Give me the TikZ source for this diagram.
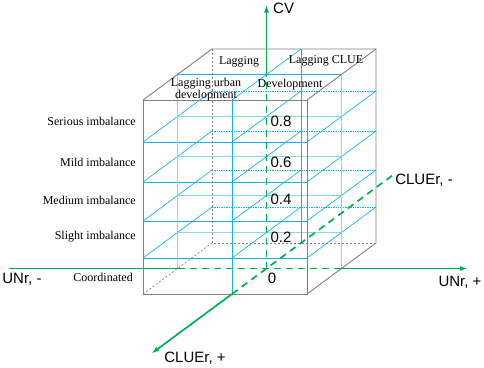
\documentclass[tikz,border=0pt]{standalone}
\usepackage{fontspec}
\setmainfont{Liberation Serif}
\newfontfamily\axfont{Liberation Sans}
\usetikzlibrary{arrows.meta}
\definecolor{gridcyan}{RGB}{20,180,235}
\definecolor{midcyan}{RGB}{140,215,240}
\definecolor{edgegray}{RGB}{128,128,128}
\definecolor{axisgreen}{RGB}{0,176,80}
\tikzset{
  gridline/.style={gridcyan, line width=0.7pt},
  midline/.style={midcyan, line width=0.7pt},
  backline/.style={gridcyan, line width=0.7pt, densely dotted},
  cubeedge/.style={edgegray, line width=0.9pt},
  hidden/.style={edgegray, line width=0.7pt, dash pattern=on 2pt off 2pt},
  axis/.style={axisgreen, line width=1.7pt},
  axisdash/.style={axis, dash pattern=on 7pt off 5pt},
  tip/.style={-{Latex[length=8pt,width=5pt]}},
  level/.style={font=\fontsize{12}{12}\selectfont, inner sep=0pt},
  axlabel/.style={font=\axfont\fontsize{15}{18}\selectfont, inner sep=0pt}
}

\begin{document}
\begin{tikzpicture}[x=1pt, y=-1pt, z={(69pt,51pt)}]
\useasboundingbox (0,0) rectangle (484,367);
%
% grid inside the cube
\foreach \l in {142,182,221,258}{
    \draw[midline] (143,\l,0.5) -- (307,\l,0.5);
    \draw[backline] (143,\l,1) -- (307,\l,1);
    \foreach \c in {143,232,307}
        \draw[gridline] (\c,\l,0) -- (\c,\l,1);
    \draw[gridline] (143,\l,0) -- (307,\l,0);
}
\draw[midline] (143,100,0.5) -- (143,294,0.5);
\draw[midline] (307,100,0.5) -- (307,294,0.5);
\draw[gridline] (232,100,1) -- (232,294,1);
\draw[gridline] (232,100,0) -- (232,294,0);
\draw[gridline] (232,100,0) -- (232,100,1);
\draw[gridline] (143,100,0.5) -- (307,100,0.5);
%
% the cube
\draw[hidden] (143,100,1) -- (143,294,1) -- (307,294,1);
\draw[hidden] (143,294,0) -- (143,294,1);
\draw[cubeedge] (143,100) rectangle (307,294);
\draw[cubeedge] (143,100,0) -- (143,100,1) -- (307,100,1) -- (307,294,1) -- (307,294,0);
\draw[cubeedge] (307,100,0) -- (307,100,1);
%
% axes
\coordinate (O) at (232,294,0.5);
\coordinate (unrL) at (-25.5,294,0.5);
\coordinate (unrA) at (143,294,0.5);
\coordinate (unrB) at (307,294,0.5);
\coordinate (unrR) at (433.5,294,0.5);
\coordinate (cvA) at (232,100,0.5);
\coordinate (cvT) at (232,30,0.5);
\coordinate (clF) at (232,294,0);
\coordinate (clP) at (232,294,-1.17);
\coordinate (clM) at (232,294,2.37);

\draw[axis] (unrL) -- (unrA);
\draw[axisdash] (unrA) -- (unrB);
\draw[axis, tip] (unrB) -- (unrR);
\draw[axisdash] (O) -- (cvA);
\draw[axis, tip] (cvA) -- (cvT);
\draw[axisdash] (clF) -- (clM);
\draw[axis, tip] (clF) -- (clP);
%
% labels
\node[axlabel, anchor=west] (cv) at (273,8) {CV};
\node[axlabel] (unrneg) at (22,279) {UNr, -};
\node[axlabel] (unrpos) at (460,282) {UNr, +};
\node[axlabel] (clueneg) at (424,180) {CLUEr, -};
\node[axlabel] (cluepos) at (195,358) {CLUEr, +};
\node[axlabel] (zero) at (272,278) {0};
\node[axlabel] (v8) at (281,121) {0.8};
\node[axlabel] (v6) at (281,162) {0.6};
\node[axlabel] (v4) at (281,199) {0.4};
\node[axlabel] (v2) at (281,237) {0.2};

\node[level, anchor=east] (serious) at (136,121) {Serious imbalance};
\node[level, anchor=east] (mild) at (136,162) {Mild imbalance};
\node[level, anchor=east] (medium) at (136,200) {Medium imbalance};
\node[level, anchor=east] (slight) at (136,237) {Slight imbalance};
\node[level, anchor=east] (coord) at (133,277) {Coordinated};

\node[level] (lag) at (239,62) {Lagging};
\node[level] (lagclue) at (326,61) {Lagging CLUE};
\node[level, align=center] (lagurban) at (206,90) {Lagging urban\\development};
\node[level] (devel) at (290,85) {Development};
\end{tikzpicture}
\end{document}
